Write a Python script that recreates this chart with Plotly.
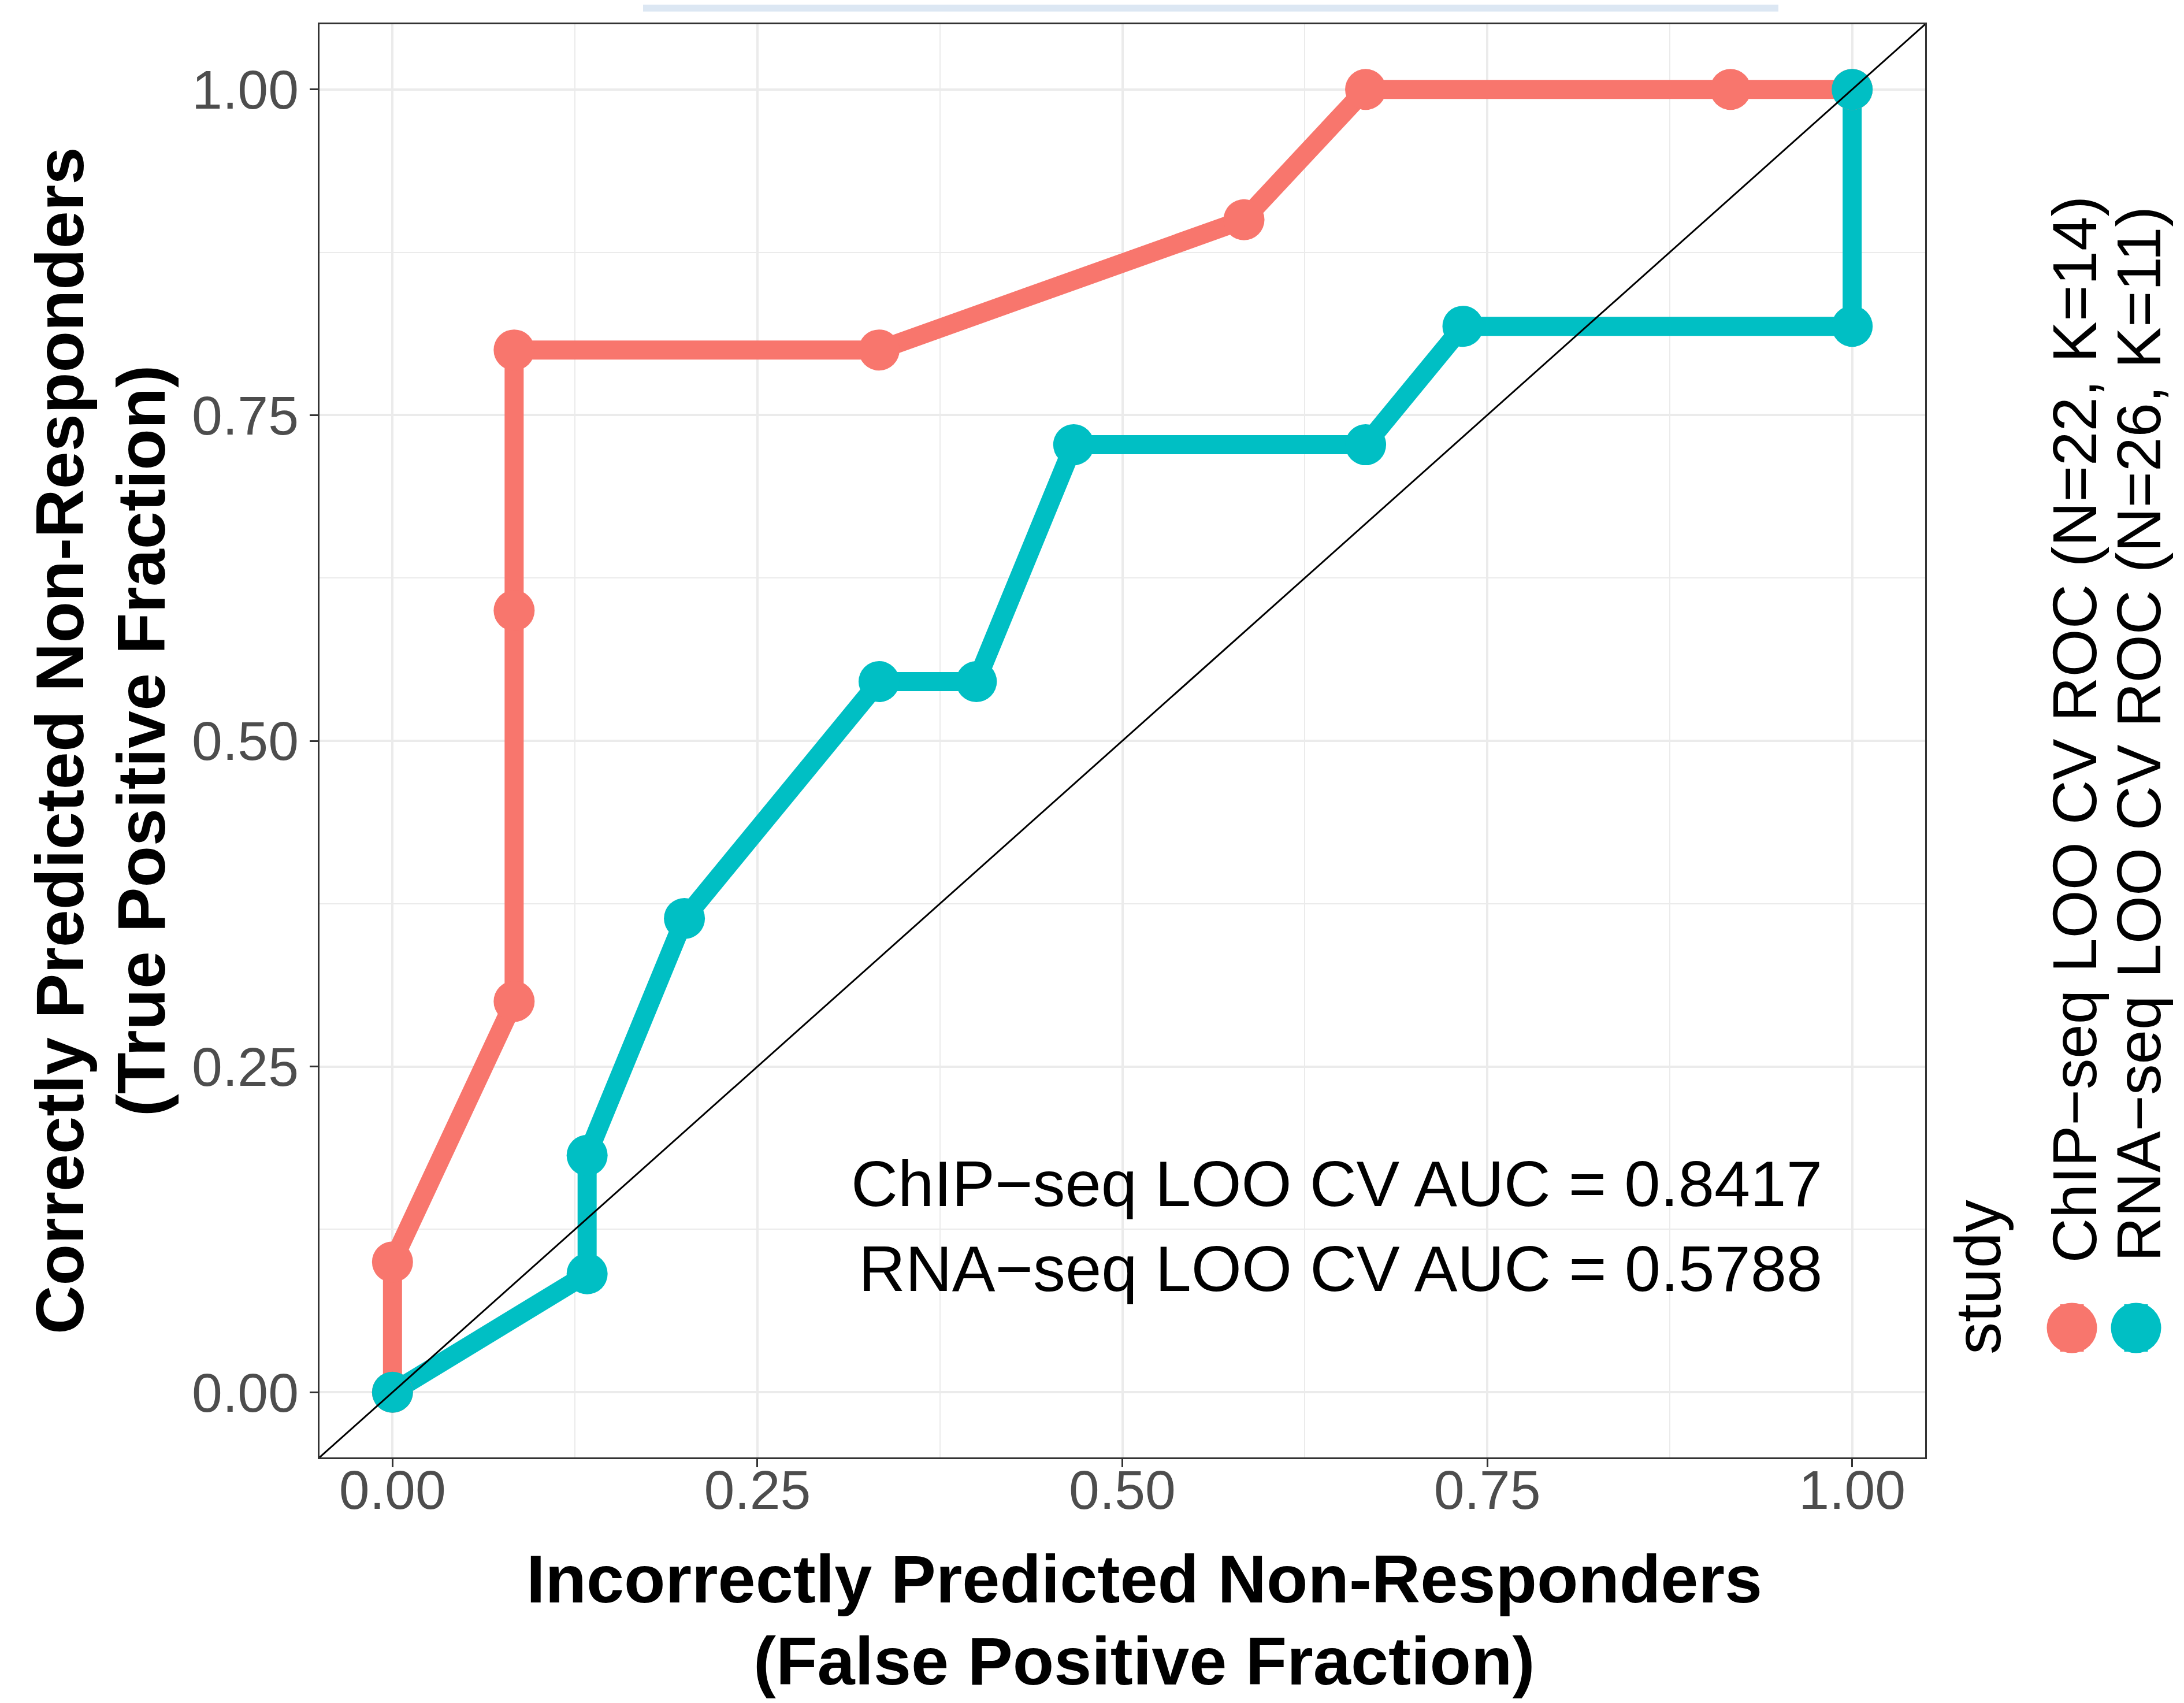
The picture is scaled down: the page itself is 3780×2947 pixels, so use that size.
import plotly.graph_objects as go

# ---- data ----
chip_fpr = [0.0, 0.0, 1/12, 1/12, 1/12, 4/12, 7/12, 8/12, 11/12, 1.0]
chip_tpr = [0.0, 0.1, 0.3, 0.6, 0.8, 0.8, 0.9, 1.0, 1.0, 1.0]
rna_fpr = [0.0, 2/15, 2/15, 3/15, 5/15, 6/15, 7/15, 10/15, 11/15, 1.0, 1.0]
rna_tpr = [0.0, 1/11, 2/11, 4/11, 6/11, 6/11, 8/11, 8/11, 9/11, 9/11, 1.0]
series_names = ["ChIP−seq LOO CV ROC (N=22, K=14)", "RNA−seq LOO CV ROC (N=26, K=11)"]
auc_labels = ["ChIP−seq LOO CV AUC = 0.8417", "RNA−seq LOO CV AUC = 0.5788"]
tick_vals = [0, 0.25, 0.5, 0.75, 1.0]
tick_text = ["0.00", "0.25", "0.50", "0.75", "1.00"]
axis_range = [-0.05, 1.05]

RED = "#F8766D"
CYAN = "#00BFC4"
FONT = "Liberation Sans"

W, H = 3780, 2947
L, R, T, B = 545, 3324, 34, 2514  # panel pixel box


def px(x):
    return (x - L) / (R - L)


def py(y):
    return (B - y) / (B - T)


fig = go.Figure()
for xs, ys, c, n in [(chip_fpr, chip_tpr, RED, series_names[0]), (rna_fpr, rna_tpr, CYAN, series_names[1])]:
    fig.add_trace(go.Scatter(x=xs, y=ys, mode="lines", line=dict(color=c, width=33),
                             name=n, showlegend=False, hoverinfo="skip"))
for xs, ys, c, n in [(chip_fpr, chip_tpr, RED, series_names[0]), (rna_fpr, rna_tpr, CYAN, series_names[1])]:
    fig.add_trace(go.Scatter(x=xs, y=ys, mode="markers", marker=dict(color=c, size=71, line=dict(width=0)),
                             name=n, showlegend=False))
# diagonal reference line y = x
fig.add_trace(go.Scatter(x=axis_range, y=axis_range, mode="lines", line=dict(color="black", width=3),
                         showlegend=False, hoverinfo="skip"))

axis_common = dict(
    range=axis_range, tickvals=tick_vals, ticktext=tick_text,
    ticks="outside", ticklen=14, tickwidth=3, tickcolor="#333333",
    tickfont=dict(family=FONT, size=95, color="#4D4D4D"),
    showline=True, mirror=True, linecolor="#333333", linewidth=3,
    showgrid=True, gridcolor="#EBEBEB", gridwidth=4, zeroline=False,
    minor=dict(dtick=0.125, tick0=0, showgrid=True, gridcolor="#EBEBEB", gridwidth=2, ticks=""),
    automargin=False,
)
fig.update_xaxes(**axis_common, ticklabelstandoff=-42)
fig.update_yaxes(**axis_common)

ann = []
# AUC text
for lab, yv in zip(auc_labels, [0.1600, 0.0950]):
    ann.append(dict(x=0.980, y=yv, xref="x", yref="y", text=lab, showarrow=False,
                    xanchor="right", yanchor="middle", borderpad=0,
                    font=dict(family=FONT, size=112, color="black")))
# axis titles
ann.append(dict(x=px(1972), y=py(2724), xref="paper", yref="paper",
                text="<b>Incorrectly Predicted Non-Responders</b>", showarrow=False,
                xanchor="center", yanchor="middle", font=dict(family=FONT, size=117, color="black")))
ann.append(dict(x=px(1972), y=py(2866), xref="paper", yref="paper",
                text="<b>(False Positive Fraction)</b>", showarrow=False,
                xanchor="center", yanchor="middle", font=dict(family=FONT, size=117, color="black")))
ann.append(dict(x=px(95), y=0.5, xref="paper", yref="paper", textangle=-90,
                text="<b>Correctly Predicted Non-Responders</b>", showarrow=False,
                xanchor="center", yanchor="middle", font=dict(family=FONT, size=117, color="black")))
ann.append(dict(x=px(236), y=0.5, xref="paper", yref="paper", textangle=-90,
                text="<b>(True Positive Fraction)</b>", showarrow=False,
                xanchor="center", yanchor="middle", font=dict(family=FONT, size=117, color="black")))
# legend (rotated)
ann.append(dict(x=px(3415), y=py(2338), xref="paper", yref="paper", textangle=-90,
                text="study", showarrow=False, xanchor="center", yanchor="bottom",
                font=dict(family=FONT, size=112, color="black")))
ann.append(dict(x=px(3582), y=py(2180), xref="paper", yref="paper", textangle=-90,
                text=series_names[0], showarrow=False, xanchor="center", yanchor="bottom",
                font=dict(family=FONT, size=107, color="black")))
ann.append(dict(x=px(3693), y=py(2178), xref="paper", yref="paper", textangle=-90,
                text=series_names[1], showarrow=False, xanchor="center", yanchor="bottom",
                font=dict(family=FONT, size=107, color="black")))

shapes = []
# faint strip at top
shapes.append(dict(type="rect", xref="paper", yref="paper", x0=px(1105), x1=px(3070),
                   y0=py(12), y1=py(-2), fillcolor="#DCE7F3", line=dict(width=0), layer="above"))
# legend keys
for cx, c in [(3578, RED), (3689, CYAN)]:
    cy = 2290
    shapes.append(dict(type="rect", xref="paper", yref="paper", x0=px(cx - 20.5), x1=px(cx + 20.5),
                       y0=py(cy + 41), y1=py(cy - 41), fillcolor=c, line=dict(width=0), layer="above"))
    shapes.append(dict(type="circle", xref="paper", yref="paper", x0=px(cx - 43.5), x1=px(cx + 43.5),
                       y0=py(cy + 43.5), y1=py(cy - 43.5), fillcolor=c, line=dict(width=0), layer="above"))

fig.update_layout(
    width=W, height=H,
    margin=dict(l=L, r=W - R, t=T, b=H - B, pad=0),
    paper_bgcolor="white", plot_bgcolor="white",
    showlegend=False,
    annotations=ann, shapes=shapes,
    font=dict(family=FONT),
)
fig.write_html("out.html")
